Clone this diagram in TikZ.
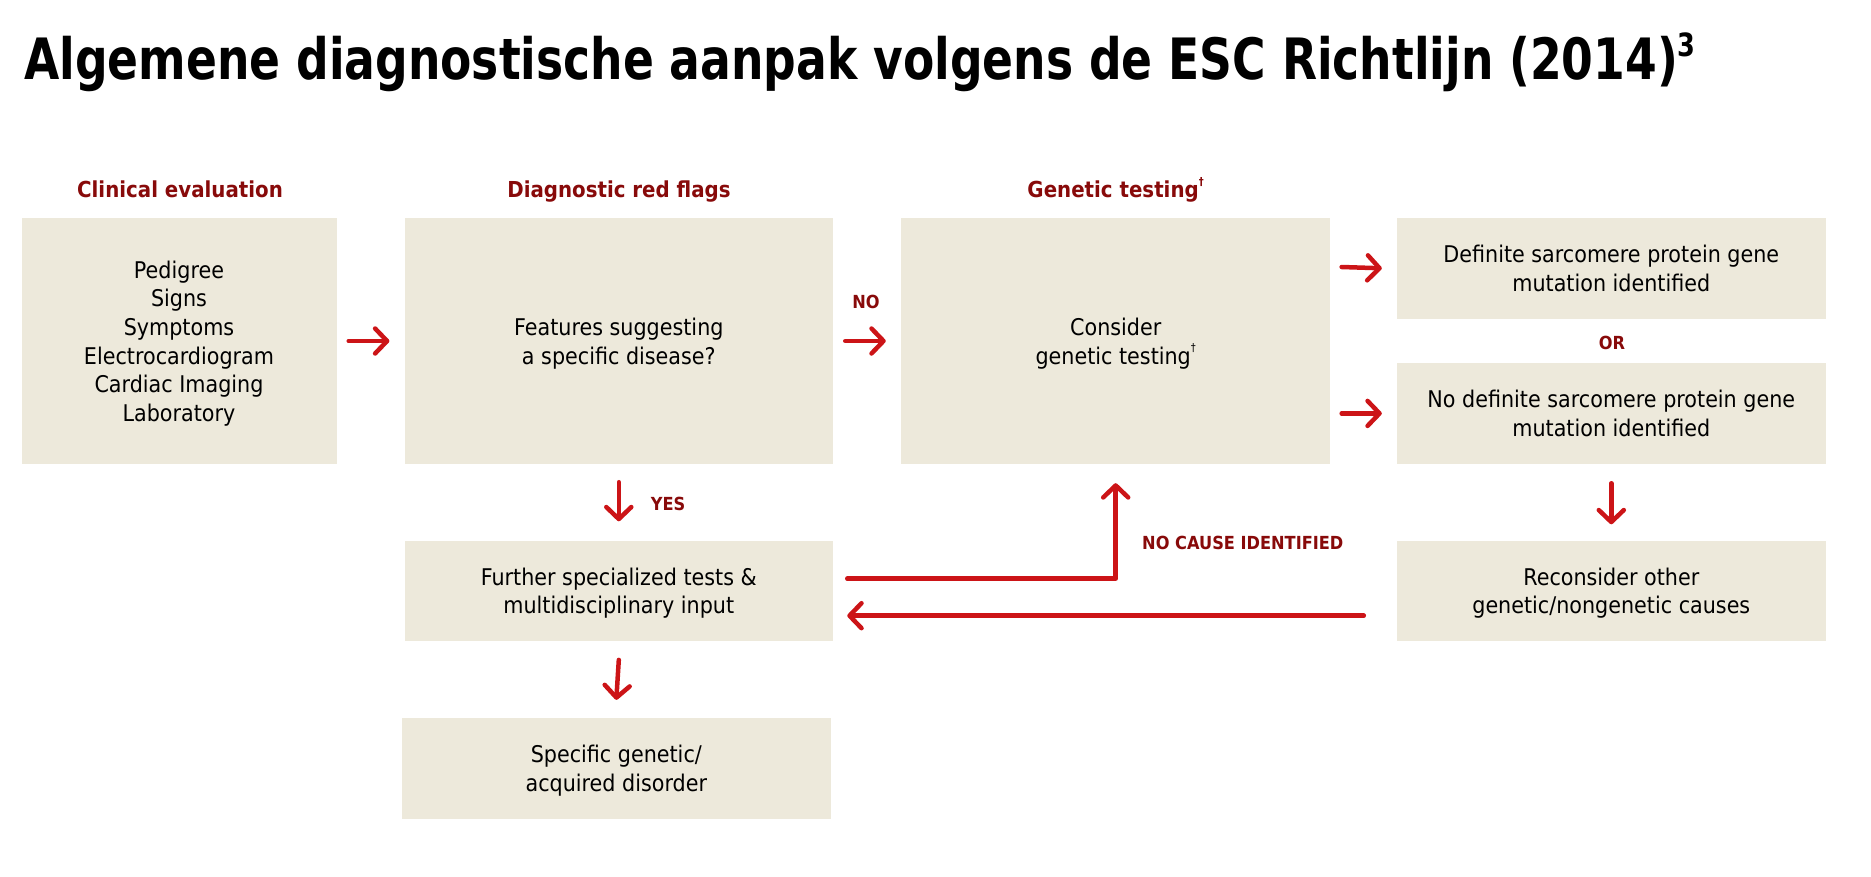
\documentclass[tikz,border=0pt]{standalone}
\usepackage{fontspec}
\setmainfont{DejaVu Sans}[FakeStretch=0.9]
\newfontfamily\titlefont{DejaVu Sans}[FakeStretch=0.8]
\usetikzlibrary{arrows.meta}
\definecolor{boxfill}{HTML}{EDE9DB}
\definecolor{arrred}{HTML}{CC1417}
\definecolor{lblred}{HTML}{880A0A}
\newcommand{\dg}{\raisebox{0.55em}{\fontsize{11}{11}\selectfont †}}
\tikzset{
  bx/.style={fill=boxfill, inner sep=0pt, align=center, text depth=0pt, font=\fontsize{23}{28.6}\selectfont},
  hd/.style={text=lblred, anchor=base, font=\bfseries\fontsize{22}{26}\selectfont, inner sep=0pt},
  lb/.style={text=lblred, font=\bfseries\fontsize{18}{22}\selectfont, inner sep=0pt},
  arr/.style={draw=arrred, line width=4.5pt, line cap=round, line join=round,
    -{Straight Barb[length=12pt, width=25pt, line cap=round, line join=round]}}
}
\begin{document}
\begin{tikzpicture}[x=1pt, y=-1pt]
\useasboundingbox (0,0) rectangle (1871,877);
\node[anchor=base west, inner sep=0pt, font=\titlefont\bfseries\fontsize{57}{62}\selectfont] (title) at (24,80)
  {Algemene diagnostische aanpak volgens de ESC Richtlijn (2014)\raisebox{0.42em}{\fontsize{32}{32}\selectfont 3}};

\node[bx, minimum width=315pt, minimum height=246pt] (b1) at (179,341)
  {Pedigree\\Signs\\Symptoms\\Electrocardiogram\\Cardiac Imaging\\Laboratory};
\node[bx, minimum width=428.5pt, minimum height=246pt] (b2) at (618.8,341)
  {Features suggesting\\a specific disease?};
\node[bx, minimum width=429.5pt, minimum height=246pt] (b3) at (1115.7,341)
  {Consider\\genetic testing\dg};
\node[bx, minimum width=428.6pt, minimum height=100.6pt] (b4) at (1611.3,268.3)
  {Definite sarcomere protein gene\\mutation identified};
\node[bx, minimum width=428.6pt, minimum height=101.3pt] (b5) at (1611.3,413.4)
  {No definite sarcomere protein gene\\mutation identified};
\node[bx, minimum width=428.5pt, minimum height=100.2pt] (b6) at (618.8,590.6)
  {Further specialized tests \&\\multidisciplinary input};
\node[bx, minimum width=428.5pt, minimum height=100.5pt] (b7) at (616.3,768.3)
  {Specific genetic/\\acquired disorder};
\node[bx, minimum width=428.6pt, minimum height=100.2pt] (b8) at (1611.3,590.6)
  {Reconsider other\\genetic/nongenetic causes};

\node[hd] (h1) at (180,197.5) {Clinical evaluation};
\node[hd] (h2) at (619,197.5) {Diagnostic red flags};
\node[hd] (h3) at (1115.6,197.5) {Genetic testing\dg};

\node[lb] (no) at (866,302) {NO};
\node[lb] (or) at (1612,342.5) {OR};
\node[lb] (yes) at (668,503.5) {YES};
\node[lb, anchor=west] (nci) at (1142,543) {NO CAUSE IDENTIFIED};

\draw[arr] ([xshift=12pt]b1.east) -- ([xshift=-15pt]b2.west);
\draw[arr] ([xshift=12pt]b2.east) -- ([xshift=-15pt]b3.west);
\draw[arr] ([xshift=11pt,yshift=1.3pt]b3.east |- b4.center) -- ([xshift=-15pt]b4.west);
\draw[arr] ([xshift=11pt]b3.east |- b5.center) -- ([xshift=-15pt]b5.west);
\draw[arr] ([yshift=-18pt]b2.south) -- ([yshift=19pt]b6.north);
\draw[arr] ([yshift=-19pt]b6.south) -- ([yshift=18pt]b7.north);
\draw[arr] ([yshift=-19pt]b5.south) -- ([yshift=16pt]b8.north);
\draw[arr] ([shift={(14pt,11.9pt)}]b6.east) -| ([yshift=-19pt]b3.south);
\draw[arr] ([shift={(-33pt,-25.1pt)}]b8.west) -- ([shift={(14pt,-25.1pt)}]b6.east);
\end{tikzpicture}
\end{document}
